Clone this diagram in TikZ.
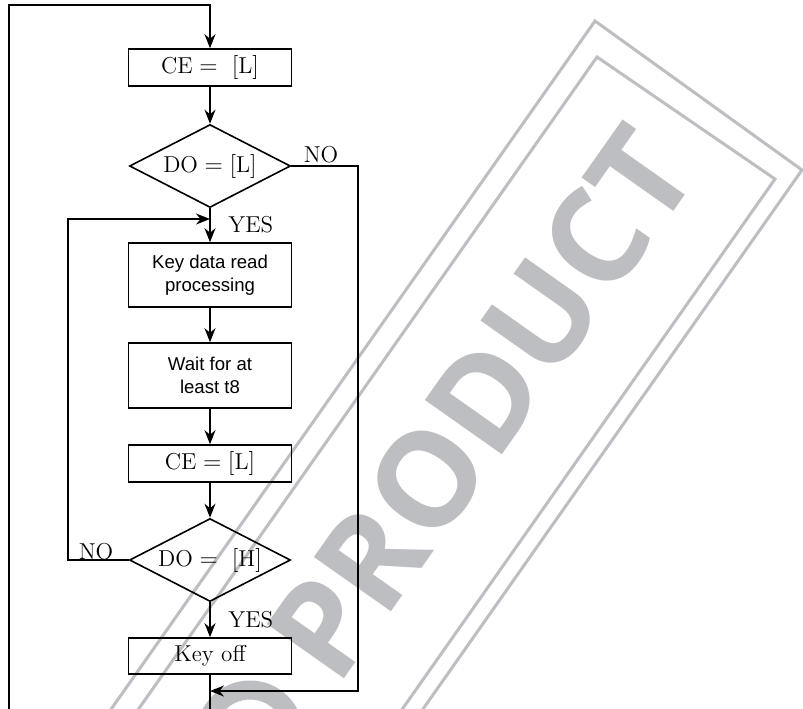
\documentclass[tikz,border=0pt]{standalone}
\usepackage{fontspec}
\newfontfamily\keysans{Liberation Sans}
\newfontfamily\stampsans{Open Sans}
\usetikzlibrary{shapes.geometric, arrows.meta}
\definecolor{stampgray}{RGB}{188,190,194}

\begin{document}
\begin{tikzpicture}[x=0.5pt, y=-0.5pt]
	\tikzstyle{proc} = [rectangle, draw=black, line width=0.8pt, minimum width=81.5pt, inner sep=0pt, align=center, font=\fontsize{11.5}{14}\selectfont]
	\tikzstyle{cond} = [diamond, draw=black, line width=0.8pt, minimum width=80.5pt, minimum height=41.5pt, aspect=2, inner sep=0pt, font=\fontsize{11.5}{14}\selectfont]
	\tikzstyle{sans} = [font=\keysans\fontsize{9.3}{11.7}\selectfont]
	\tikzstyle{flow} = [-{Stealth[length=7pt, width=5.5pt]}, line width=0.8pt]
	\tikzstyle{lbl} = [inner sep=0pt, font=\fontsize{11.5}{14}\selectfont]
	\tikzstyle{stamp} = [draw=stampgray, line width=1.5pt]

	\useasboundingbox (0,0) rectangle (803,708);
	\clip (0,0) rectangle (803,708);
	\fill[white] (0,0) rectangle (803,708);

	% stamp behind the chart
	\draw[stamp] (77.5,757) -- (595,21) -- (802,170) -- (284.5,906);
	\draw[stamp] (79.5,793) -- (597,57) -- (775,179) -- (257.5,915);
	\node[text=stampgray, rotate=54.8, inner sep=0pt, font=\stampsans\bfseries\fontsize{66}{66}\selectfont] at (481,403) (word) {PRODUCT};
	\draw[stampgray, line width=9.5pt] (250,734) circle[radius=44];

	% chart
	\node[proc, minimum height=18.5pt] at (210,67.5) (ce1) {$\mathrm{CE}=\ [\mathrm{L}]$};
	\node[cond] at (210,166) (do1) {$\mathrm{DO}=[\mathrm{L}]$};
	\node[proc, sans, minimum height=32pt] at (210,275) (read) {Key data read\\processing};
	\node[proc, sans, minimum height=32.5pt] at (210,375.5) (wait) {Wait for at\\least t8};
	\node[proc, minimum height=18.5pt] at (210,463.5) (ce2) {$\mathrm{CE}=[\mathrm{L}]$};
	\node[cond] at (210,560) (do2) {$\mathrm{DO}=\ [\mathrm{H}]$};
	\node[proc, minimum height=18pt] at (210,656) (off) {Key off};

	\node[lbl] at (321,155) (no1) {NO};
	\node[lbl, anchor=west] at (228,225) (yes1) {YES};
	\node[lbl] at (96,552) (no2) {NO};
	\node[lbl, anchor=west] at (228,620) (yes2) {YES};

	\coordinate (loopin) at (9,730);
	\coordinate (top) at (210,5);
	\coordinate (lc) at (68,219);
	\coordinate (merge) at (210,219);
	\coordinate (rc) at (358,691);
	\coordinate (join) at (210,691);
	\coordinate (exit) at (210,730);

	\draw[flow] (loopin) |- (top) -- (ce1);
	\draw[flow] (ce1) -- (do1);
	\draw[flow] (do1) -- (read);
	\draw[flow] (read) -- (wait);
	\draw[flow] (wait) -- (ce2);
	\draw[flow] (ce2) -- (do2);
	\draw[flow] (do2) -- (off);
	\draw[line width=0.8pt] (off) -- (exit);

	\draw[flow] (do2.west) -| (lc) -- (merge);
	\draw[flow] (do1.east) -| (rc) -- (join);
\end{tikzpicture}
\end{document}
